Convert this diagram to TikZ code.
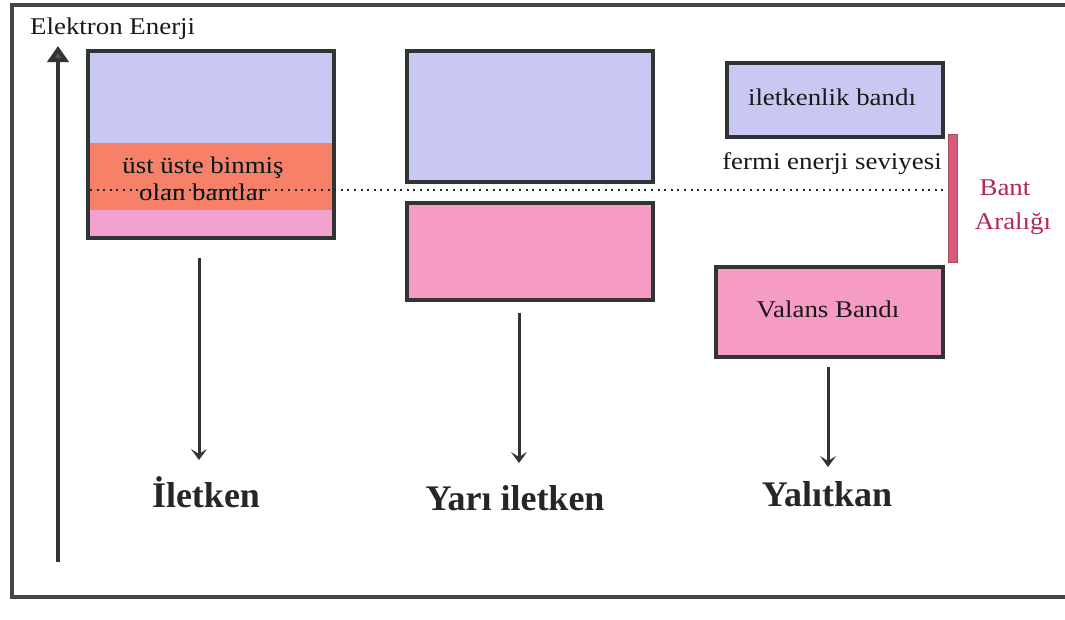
\documentclass[tikz,border=0pt]{standalone}
\usepackage{fontspec}
\setmainfont{Liberation Serif}
\newfontfamily\widefont[FakeStretch=1.12]{Liberation Serif}
\usetikzlibrary{arrows.meta}
\definecolor{lav}{RGB}{201,200,242}
\definecolor{pinkband}{RGB}{245,155,196}
\definecolor{pinklight}{RGB}{243,162,208}
\definecolor{overlap}{RGB}{247,128,104}
\definecolor{barfill}{RGB}{214,92,122}
\definecolor{bartext}{RGB}{178,40,78}
\definecolor{edge}{RGB}{48,52,52}
\definecolor{frame}{RGB}{68,70,70}
\tikzset{
  bandbox/.style={draw=edge, line width=3.5pt, rectangle, inner sep=0pt},
  txt/.style={font=\widefont\fontsize{24}{28}\selectfont, text=black!90, inner sep=0pt, anchor=base},
  bigtxt/.style={font=\bfseries\fontsize{36}{40}\selectfont, text=black!85, inner sep=0pt, anchor=base},
  downarrow/.style={draw=edge, line width=3pt, -{Stealth[length=11pt,width=16pt,inset=5pt]}},
  fermi/.style={line width=2.6pt, dash pattern=on 2pt off 4.6pt, black!85}
}
\begin{document}
\begin{tikzpicture}[x=1pt,y=-1pt]
\useasboundingbox (0,0) rectangle (1065,619);
\clip (0,0) rectangle (1065,619);
\fill[white] (0,0) rectangle (1065,619);
% outer frame
\draw[frame, line width=3.5pt] (12,5) rectangle (1100,597);
% energy axis
\coordinate (axb) at (58,562);
\coordinate (axt) at (58,46);
\draw[line width=4pt, edge, -{Triangle[length=16pt,width=21pt,fill=black!65]}] (axb) -- (axt);
\node[txt, anchor=base west] (axlab) at (30,34) {Elektron Enerji};
% conductor box
\fill[lav] (88,51) rectangle (334,143);
\fill[overlap] (88,143) rectangle (334,210);
\fill[pinklight] (88,210) rectangle (334,238);
\node[bandbox, minimum width=246pt, minimum height=187pt] (b1) at (211,144.5) {};
\node[txt, text=black!80!teal] (ov1) at (203,173) {üst üste binmiş};
\node[txt, text=black!80!teal] (ov2) at (203,200) {olan bantlar};
% semiconductor boxes
\node[bandbox, fill=lav, minimum width=246pt, minimum height=131pt] (b2c) at (530,116.5) {};
\node[bandbox, fill=pinkband, minimum width=246pt, minimum height=97pt] (b2v) at (530,251.5) {};
% insulator boxes
\node[bandbox, fill=lav, minimum width=216pt, minimum height=74pt] (b3c) at (835,100) {};
\node[txt] (b3ct) at (832,105) {iletkenlik bandı};
\node[bandbox, fill=pinkband, minimum width=227pt, minimum height=90pt] (b3v) at (829.5,312) {};
\node[txt] (b3vt) at (828,317) {Valans Bandı};
\node[txt] (fermit) at (832,169) {fermi enerji seviyesi};
% band gap bar
\node[draw=barfill!80!black, fill=barfill, line width=1pt, minimum width=9pt, minimum height=128pt, inner sep=0pt] (gap) at (953,198) {};
\node[txt, text=bartext] (gapt1) at (1005,195) {Bant};
\node[txt, text=bartext] (gapt2) at (1013,229) {Aralığı};
% fermi level
\coordinate (fs) at (90,190);
\draw[fermi] (fs) -- (gap.west |- fs);
% arrows and labels
\node[bigtxt] (l1) at (206,507) {İletken};
\node[bigtxt] (l2) at (515,510) {Yarı iletken};
\node[bigtxt] (l3) at (827,506) {Yalıtkan};
\coordinate (a1s) at (199,258); \coordinate (a1e) at (199,460);
\coordinate (a2s) at (519,313); \coordinate (a2e) at (519,463);
\coordinate (a3s) at (828,367); \coordinate (a3e) at (828,467);
\draw[downarrow] (a1s) -- (a1e);
\draw[downarrow] (a2s) -- (a2e);
\draw[downarrow] (a3s) -- (a3e);
\end{tikzpicture}
\end{document}
